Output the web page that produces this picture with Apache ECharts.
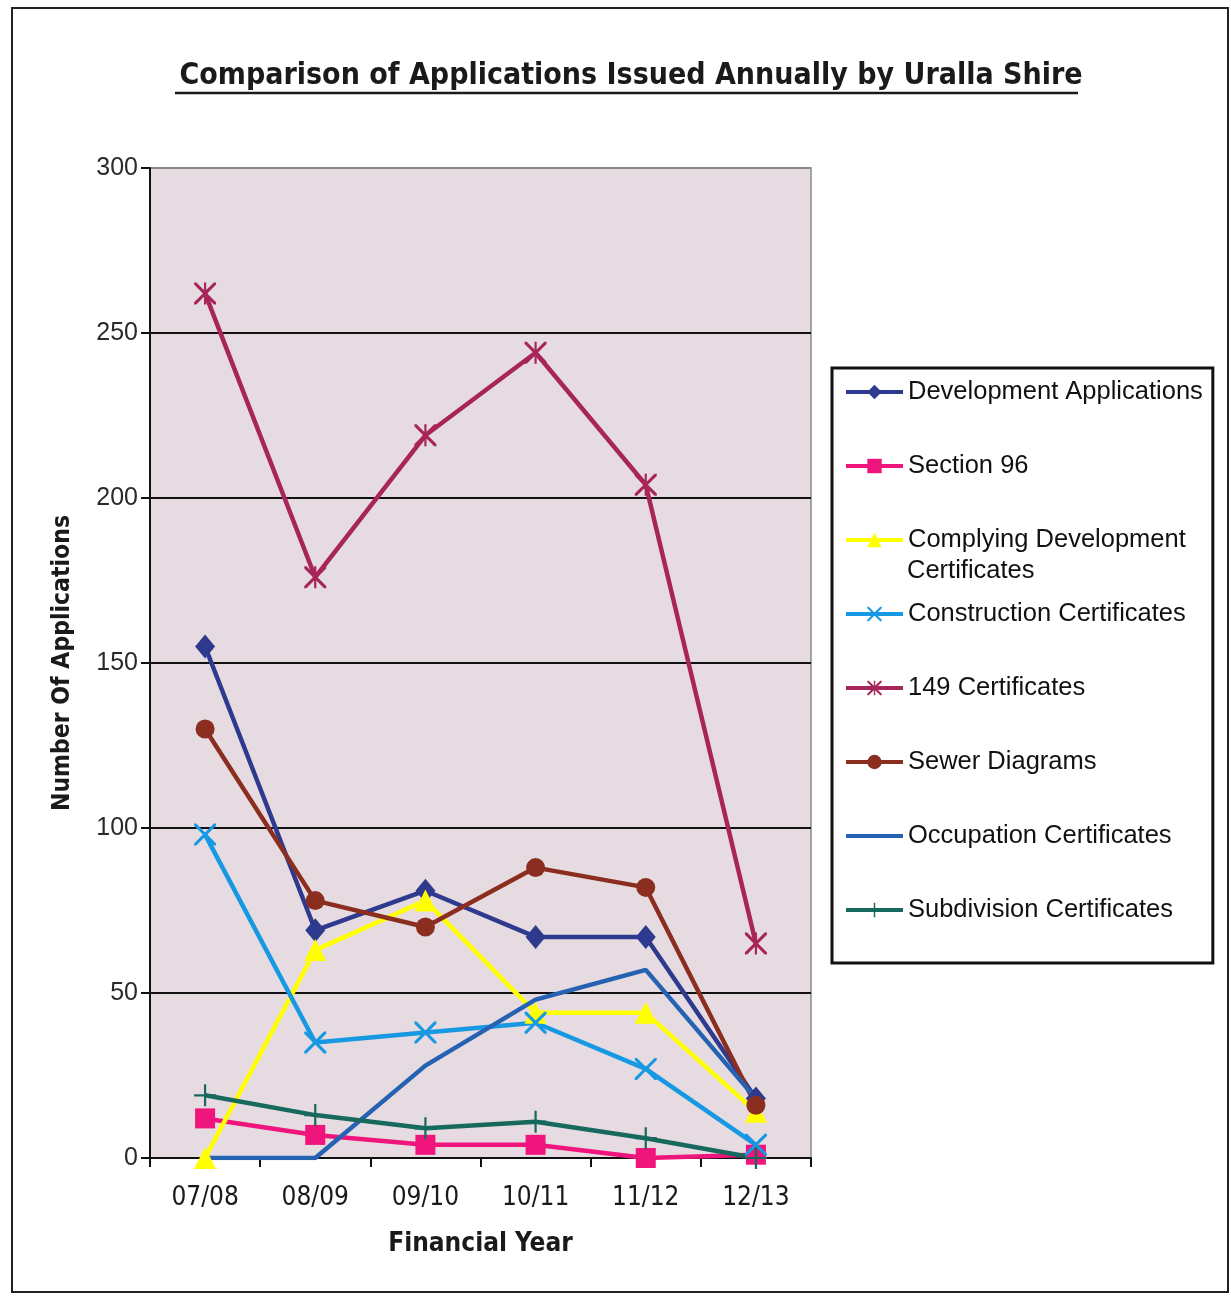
<!DOCTYPE html>
<html>
<head>
<meta charset="utf-8">
<script src="https://cdn.jsdelivr.net/npm/echarts@6/dist/echarts.min.js"></script>
<style>
html,body{margin:0;padding:0;background:#fff;}
#c{width:1231px;height:1296px;}
</style>
</head>
<body>
<div id="c"></div>
<script>
var categories = ['07/08', '08/09', '09/10', '10/11', '11/12', '12/13'];
var yTicks = [0, 50, 100, 150, 200, 250, 300];

var developmentApplications = [155, 69, 81, 67, 67, 18];
var section96 = [12, 7, 4, 4, 0, 1];
var complyingDevelopment = [0, 63, 78, 44, 44, 14];
var constructionCertificates = [98, 35, 38, 41, 27, 4];
var certificates149 = [262, 176, 219, 244, 204, 65];
var sewerDiagrams = [130, 78, 70, 88, 82, 16];
var occupationCertificates = [0, 0, 28, 48, 57, 18];
var subdivisionCertificates = [19, 13, 9, 11, 6, 0];

var seriesNames = ['Development Applications', 'Section 96', 'Complying Development Certificates',
  'Construction Certificates', '149 Certificates', 'Sewer Diagrams', 'Occupation Certificates', 'Subdivision Certificates'];

var crossPath = 'path://M0,0 L2,0 L10,8 L18,0 L20,0 L20,2 L12,10 L20,18 L20,20 L18,20 L10,12 L2,20 L0,20 L0,18 L8,10 L0,2 Z';
var starPath = 'path://M0,0 L2,0 L9,7 L9,0 L11,0 L11,7 L18,0 L20,0 L20,2 L12,10 L20,18 L20,20 L18,20 L11,13 L11,20 L9,20 L9,13 L2,20 L0,20 L0,18 L8,10 L0,2 Z';
var plusPath = 'path://M9,0 L11,0 L11,9 L20,9 L20,11 L11,11 L11,20 L9,20 L9,11 L0,11 L0,9 L9,9 Z';

var narrow = "'Liberation Sans Narrow', 'DejaVu Sans Condensed', 'Liberation Sans', sans-serif";
var sans = "'Liberation Sans', Arial, sans-serif";

function mk(name, data, color, symbol, size) {
  return {
    name: name, type: 'line', data: data,
    symbol: symbol, symbolSize: size, showSymbol: symbol !== 'none',
    lineStyle: { color: color, width: 4.5 },
    itemStyle: { color: color },
    emphasis: { disabled: true },
    z: 3
  };
}

var legendData = seriesNames.map(function (n) {
  return n === 'Occupation Certificates' ? { name: n, itemStyle: { opacity: 0 } } : { name: n };
});

var chart = echarts.init(document.getElementById('c'));
chart.setOption({
  animation: false,
  backgroundColor: '#ffffff',
  title: {
    text: 'Comparison of Applications Issued Annually by Uralla Shire',
    left: 626, textAlign: 'center', top: 56,
    textStyle: { fontFamily: narrow, fontWeight: 'bold', fontSize: 30, color: '#1a1a1a' }
  },
  graphic: [
    { type: 'rect', shape: { x: 12, y: 8, width: 1216, height: 1284 }, style: { fill: 'none', stroke: '#222', lineWidth: 2 }, silent: true },
    { type: 'line', shape: { x1: 175, y1: 93, x2: 1078, y2: 93 }, style: { stroke: '#1a1a1a', lineWidth: 2.5 }, silent: true },
    { type: 'text', left: 907, top: 558, style: { text: 'Certificates', fontFamily: sans, fontSize: 25.5, fill: '#111' }, z: 10, silent: true }
  ],
  grid: {
    left: 150, right: 420, top: 168, bottom: 138,
    show: true, backgroundColor: '#e6dbe0', borderColor: '#8a8a8a', borderWidth: 1.5
  },
  legend: {
    orient: 'vertical', left: 832, top: 368,
    data: legendData,
    itemWidth: 57, itemHeight: 18, itemGap: 42,
    padding: [8, 10, 37, 12],
    borderColor: '#111', borderWidth: 3, backgroundColor: '#fff',
    selectedMode: false,
    lineStyle: { width: 4 },
    formatter: function (n) { return n === 'Complying Development Certificates' ? 'Complying Development' : n; },
    textStyle: { fontFamily: sans, fontSize: 25.5, color: '#111', lineHeight: 32 }
  },
  xAxis: {
    type: 'category', data: categories, boundaryGap: true,
    name: 'Financial Year', nameLocation: 'middle', nameGap: 73,
    nameTextStyle: { fontFamily: narrow, fontWeight: 'bold', fontSize: 26, color: '#1a1a1a' },
    axisLine: { lineStyle: { color: '#111', width: 2 } },
    axisTick: { show: true, interval: 0, length: 9, lineStyle: { color: '#111', width: 2 } },
    axisLabel: { margin: 27, fontFamily: narrow, fontSize: 26, color: '#1a1a1a' },
    splitLine: { show: false }
  },
  yAxis: {
    type: 'value', min: 0, max: 300, interval: 50,
    name: 'Number Of Applications', nameLocation: 'middle', nameGap: 75, nameRotate: 90,
    nameTextStyle: { fontFamily: narrow, fontWeight: 'bold', fontSize: 24.5, color: '#1a1a1a' },
    axisLine: { show: true, lineStyle: { color: '#111', width: 2 } },
    axisTick: { show: true, length: 9, lineStyle: { color: '#111', width: 2 } },
    axisLabel: {
      margin: 12, fontFamily: sans, fontSize: 25, color: '#2a2a2a',
      formatter: function (v) { return yTicks.indexOf(v) >= 0 ? String(v) : ''; }
    },
    splitLine: { show: true, lineStyle: { color: ['#111', '#111', '#111', '#111', '#111', '#111', '#8a8a8a'], width: 1.8 } }
  },
  series: [
    mk(seriesNames[0], developmentApplications, '#2e3a8e', 'diamond', [20, 24]),
    mk(seriesNames[1], section96, '#f0157c', 'rect', 20),
    mk(seriesNames[2], complyingDevelopment, '#ffff00', 'triangle', 22),
    mk(seriesNames[3], constructionCertificates, '#1798e2', crossPath, 22),
    mk(seriesNames[4], certificates149, '#a8255a', starPath, 22),
    mk(seriesNames[5], sewerDiagrams, '#8b2e20', 'circle', 19),
    mk(seriesNames[6], occupationCertificates, '#2662b2', 'none', 0),
    mk(seriesNames[7], subdivisionCertificates, '#17695e', plusPath, 22)
  ]
});
</script>
</body>
</html>
